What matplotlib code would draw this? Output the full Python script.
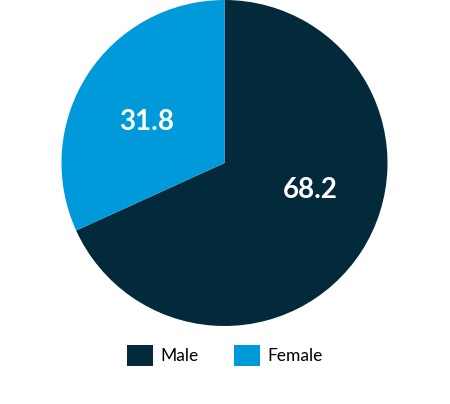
import matplotlib.pyplot as plt
from matplotlib.patches import Patch
import numpy as np

# datos del grafico
etiquetas = ["Male", "Female"]
valores = [68.2, 31.8]
colores = ["#022a3b", "#0099da"]
# posicion de las etiquetas (angulo en grados, distancia relativa al radio)
pos_etiquetas = [(-17.8, 0.55), (152.4, 0.54)]

plt.rcParams['font.family'] = ['Lato', 'DejaVu Sans']

fig = plt.figure(figsize=(4.5, 4.04), dpi=100)
ax = fig.add_axes([61.5 / 450, (404 - 326) / 404, 326 / 450, 326 / 404])

ax.pie(valores, colors=colores, startangle=90, counterclock=False,
       radius=1, wedgeprops=dict(linewidth=0))
ax.set_xlim(-1, 1)
ax.set_ylim(-1, 1)
ax.set_aspect('equal')
ax.axis('off')

# etiquetas de valores dentro de cada porcion
for v, (ang, r) in zip(valores, pos_etiquetas):
    a = np.deg2rad(ang)
    ax.text(r * np.cos(a), r * np.sin(a), f"{v:.1f}", color="white",
            fontsize=20, fontweight="bold", ha="center", va="center")

handles = [Patch(facecolor=c, edgecolor="none") for c in colores]
fig.legend(handles, etiquetas, loc="center", bbox_to_anchor=(225 / 450, 48.5 / 404),
           ncol=2, frameon=False, fontsize=12.5, handlelength=1.5, handleheight=1.5,
           handletextpad=0.45, columnspacing=2.0)

fig.savefig("out.png", dpi=100)
